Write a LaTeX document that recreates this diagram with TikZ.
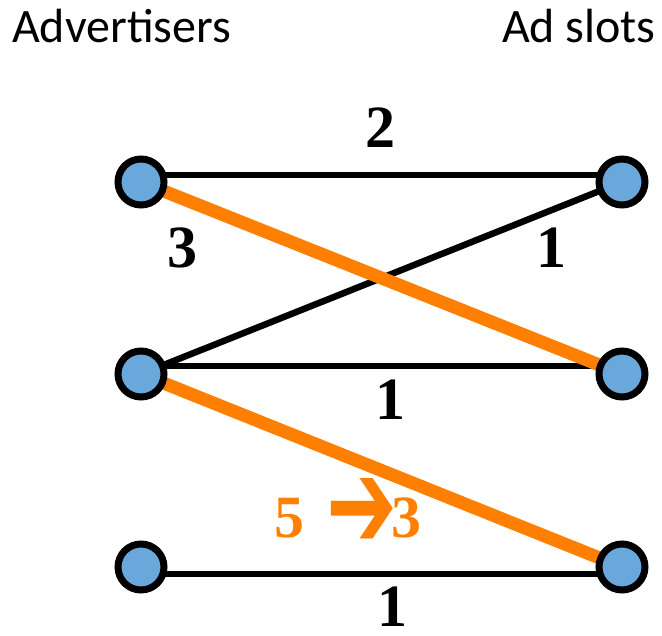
\documentclass[tikz,border=0pt]{standalone}
\usepackage{fontspec}
\setmainfont{Liberation Serif}
\newfontfamily\headfont{Carlito}
\newfontfamily\symfont{DejaVu Sans}
\usepackage{tikz}
\usetikzlibrary{positioning}

\pgfdeclarelayer{background}
\pgfsetlayers{background,main}

\definecolor{slotblue}{RGB}{106,168,220}
\definecolor{matchorange}{RGB}{255,128,0}

\tikzset{
  vertex/.style={circle, draw=black, line width=7pt, fill=slotblue, minimum size=46pt, inner sep=0pt},
  wire/.style={black, line width=6.5pt},
  match/.style={matchorange, line width=13pt},
  weight/.style={font=\fontsize{60}{60}\selectfont\bfseries, inner sep=0pt},
  header/.style={font=\headfont\fontsize{48}{48}\selectfont, inner sep=0pt}
}

\begin{document}
\begin{tikzpicture}[x=1pt, y=-1pt]
\useasboundingbox (0,0) rectangle (662,636);

% Column titles
\node[header, anchor=base west] (adv) at (12,43) {Advertisers};
\node[header, anchor=base east] (slots) at (656,43) {Ad slots};

% Define nodes
\node[vertex] (l1) at (141,182) {};
\node[vertex] (l2) at (141,374) {};
\node[vertex] (l3) at (141,567) {};
\node[vertex] (r1) at (622,182) {};
\node[vertex] (r2) at (622,374) {};
\node[vertex] (r3) at (622,567) {};

% Draw edges behind the circles
\begin{pgfonlayer}{background}
\draw[wire] ([yshift=7pt]l1.center) -- ([yshift=7pt]r1.center);
\draw[wire] (l2.center) -- (r1.center);
\draw[wire] ([yshift=8pt]l2.center) -- ([yshift=8pt]r2.center);
\draw[wire] ([yshift=-7pt]l3.center) -- ([yshift=-7pt]r3.center);
\draw[match] (l1.center) -- (r2.center);
\draw[match] (l2.center) -- (r3.center);
\end{pgfonlayer}

% Edge weights
\node[weight] (w11) at (380,128) {2};
\node[weight] (w12) at (182,248) {3};
\node[weight] (w21) at (551,248) {1};
\node[weight] (w22) at (390,400) {1};
\node[weight, text=matchorange, anchor=base west] (w23) at (274,537)
  {5\kern22pt\raisebox{-11pt}{\resizebox{71pt}{70pt}{\symfont ➔}}\kern-6pt3};
\node[weight] (w33) at (392,607) {1};

\end{tikzpicture}
\end{document}
